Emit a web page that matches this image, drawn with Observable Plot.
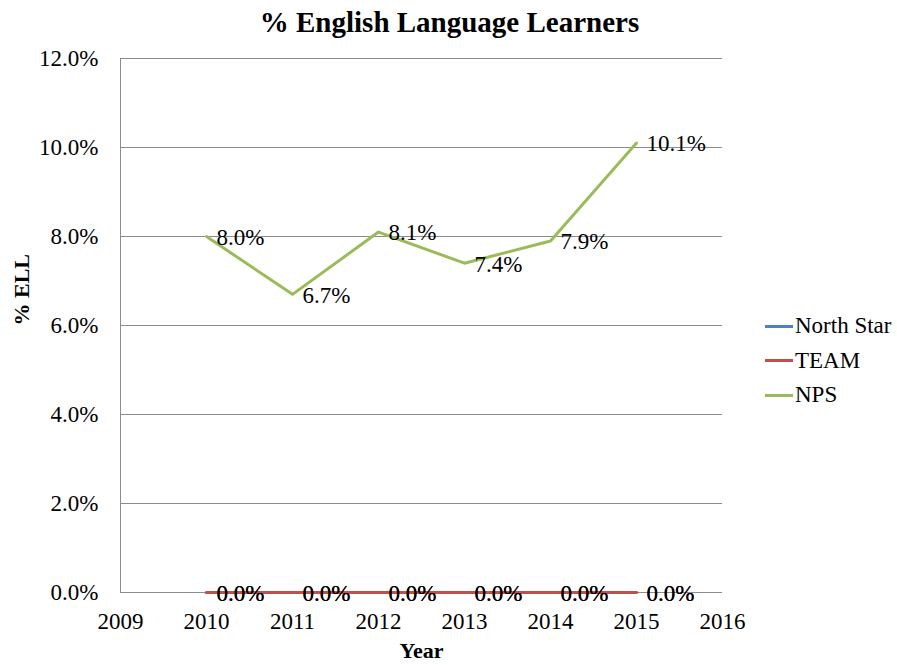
<!DOCTYPE html>
<html>
<head>
<meta charset="utf-8">
<script src="https://cdn.jsdelivr.net/npm/d3@7"></script>
<script src="https://cdn.jsdelivr.net/npm/@observablehq/plot@0.6"></script>
<style>
  html, body { margin: 0; padding: 0; background: #fff; }
  #wrap, #wrap * , svg text { font-family: "Liberation Serif", "DejaVu Serif", "Times New Roman", Times, serif !important; }
  #wrap { position: relative; width: 897px; height: 665px; }
  #title { height: 40px; line-height: 44px; text-align: center; font-weight: bold; font-size: 29px; color: #000; padding-left: 2px; }
  #legend { position: absolute; left: 765px; top: 309px; font-size: 23px; color: #000; }
  .item { display: flex; align-items: center; height: 34.5px; }
  .swatch { width: 28px; height: 3px; margin-right: 2px; }
</style>
</head>
<body>
<div id="wrap">
  <div id="title">% English Language Learners</div>
  <div id="chart"></div>
  <div id="legend"></div>
</div>
<script>
const years = [2010, 2011, 2012, 2013, 2014, 2015];
const seriesNames = ["North Star", "TEAM", "NPS"];
const seriesColors = ["#4F81BD", "#C0504D", "#9BBB59"];
const northStar = [0.0, 0.0, 0.0, 0.0, 0.0, 0.0];
const team = [0.0, 0.0, 0.0, 0.0, 0.0, 0.0];
const nps = [8.0, 6.7, 8.1, 7.4, 7.9, 10.1];
const xTicks = [2009, 2010, 2011, 2012, 2013, 2014, 2015, 2016];
const yTicks = [0, 2, 4, 6, 8, 10, 12];

const valuesBySeries = [northStar, team, nps];
const data = [];
seriesNames.forEach((s, i) => {
  years.forEach((y, j) => data.push({series: s, year: y, value: valuesBySeries[i][j]}));
});

const fmt = d => d.toFixed(1) + "%";
const serif = "Liberation Serif, DejaVu Serif, Times New Roman, serif";

const chart = Plot.plot({
  width: 897,
  height: 625,
  marginTop: 18,
  marginBottom: 73,
  marginLeft: 120,
  marginRight: 175,
  style: { fontFamily: serif, fontSize: "23px", color: "#000", background: "#fff" },
  x: { domain: [2009, 2016], ticks: xTicks, tickFormat: d => String(d) },
  y: { domain: [0, 12], ticks: yTicks, tickFormat: fmt },
  color: { domain: seriesNames, range: seriesColors },
  marks: [
    Plot.gridY(yTicks, { stroke: "#8c8c8c", strokeOpacity: 1, strokeWidth: 1 }),
    Plot.ruleX([2009], { stroke: "#8c8c8c", strokeWidth: 1 }),
    Plot.axisY({ ticks: yTicks, tickFormat: fmt, tickSize: 0, tickPadding: 22, label: null, fontSize: 23 }),
    Plot.axisX({ ticks: xTicks, tickFormat: d => String(d), tickSize: 0, tickPadding: 20, label: null, fontSize: 23 }),
    Plot.text(["% ELL"], { frameAnchor: "left", dx: -99, rotate: -90, fontWeight: "bold", fontSize: 22 }),
    Plot.text(["Year"], { frameAnchor: "bottom", dy: 65, fontWeight: "bold", fontSize: 22 }),
    Plot.line(data, { x: "year", y: "value", z: "series", stroke: "series", strokeWidth: 3 }),
    Plot.text(data, { x: "year", y: "value", text: d => fmt(d.value), textAnchor: "start", dx: 10, dy: 1, fill: "#000", fontSize: 23 })
  ]
});
document.getElementById("chart").appendChild(chart);

const legend = document.getElementById("legend");
seriesNames.forEach((s, i) => {
  const item = document.createElement("div");
  item.className = "item";
  const sw = document.createElement("span");
  sw.className = "swatch";
  sw.style.background = seriesColors[i];
  const lab = document.createElement("span");
  lab.textContent = s;
  item.appendChild(sw);
  item.appendChild(lab);
  legend.appendChild(item);
});
</script>
</body>
</html>
